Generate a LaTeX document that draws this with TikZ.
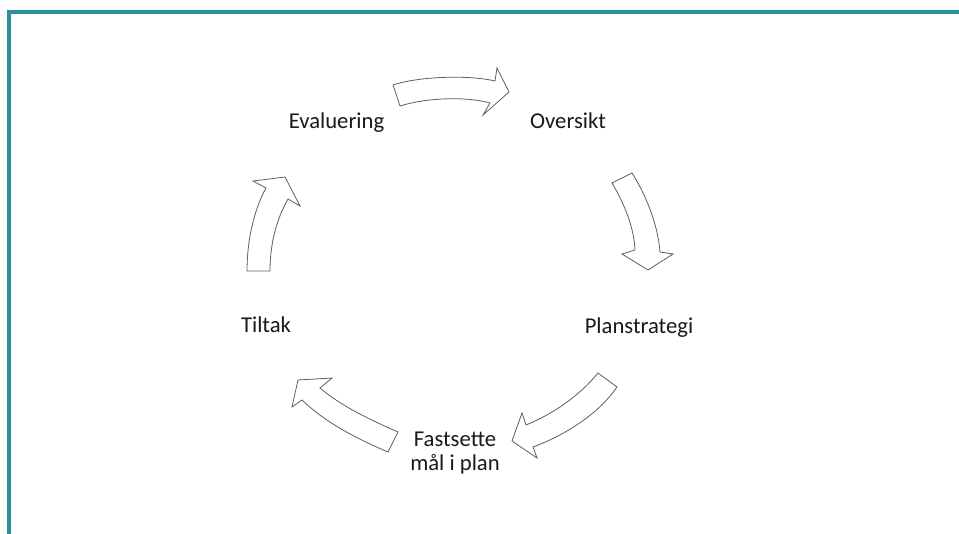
\documentclass[tikz,border=0pt]{standalone}
\usepackage{fontspec}
\setmainfont{Carlito}
\definecolor{frameteal}{RGB}{42,143,160}
\definecolor{arrowline}{RGB}{95,95,95}
\begin{document}
\begin{tikzpicture}[x=0.75pt,y=-0.75pt,
  blockarrow/.style={draw=arrowline,line width=0.6pt,fill=white,line join=miter},
  lbl/.style={anchor=base,inner sep=0pt,align=center,font=\fontsize{17}{17.3}\selectfont,text=black!90}]
\useasboundingbox (0,0) rectangle (959,534);
\fill[white] (0,0) rectangle (959,534);
% frame
\fill[frameteal] (7,10) rectangle (959,14);
\fill[frameteal] (7,10) rectangle (11,534);

% labels
\node[lbl] (eval) at (336.5,129) {Evaluering};
\node[lbl] (over) at (568,129) {Oversikt};
\node[lbl] (plan) at (639,333) {Planstrategi};
\node[lbl] (tilt) at (266,332) {Tiltak};
\node[lbl] (fast) at (455,470) {Fastsette\\mål i plan};

% top arrow: Evaluering -> Oversikt
\draw[blockarrow] (393,85) .. controls (420,76) and (470,75) .. (495,81)
  -- (497,68) -- (509,92) -- (483,115) -- (490,103)
  .. controls (465,96) and (425,98) .. (400,106) -- cycle;

% right arrow: Oversikt -> Planstrategi
\draw[blockarrow] (612,183) .. controls (625,205) and (634,228) .. (635,250)
  -- (622,254) -- (648,270) -- (673,254) -- (660,252)
  .. controls (658,225) and (646,195) .. (632,173) -- cycle;

% bottom right arrow: Planstrategi -> Fastsette
\draw[blockarrow] (598,373) .. controls (580,395) and (555,413) .. (526,425)
  -- (522,413) -- (512,441) -- (537,458) -- (533,447)
  .. controls (568,434) and (600,412) .. (617,387) -- cycle;

% bottom left arrow: Fastsette -> Tiltak
\draw[blockarrow] (398,432) .. controls (366,418) and (340,405) .. (320,388)
  -- (332,378) -- (298,380) -- (292,407) -- (302,400)
  .. controls (325,422) and (355,438) .. (388,452) -- cycle;

% left arrow: Tiltak -> Evaluering
\draw[blockarrow] (247,271) .. controls (247,240) and (254,210) .. (266,188)
  -- (253,181) -- (285,177) -- (300,206) -- (288,199)
  .. controls (276,220) and (270,245) .. (270,271) -- cycle;
\end{tikzpicture}
\end{document}
